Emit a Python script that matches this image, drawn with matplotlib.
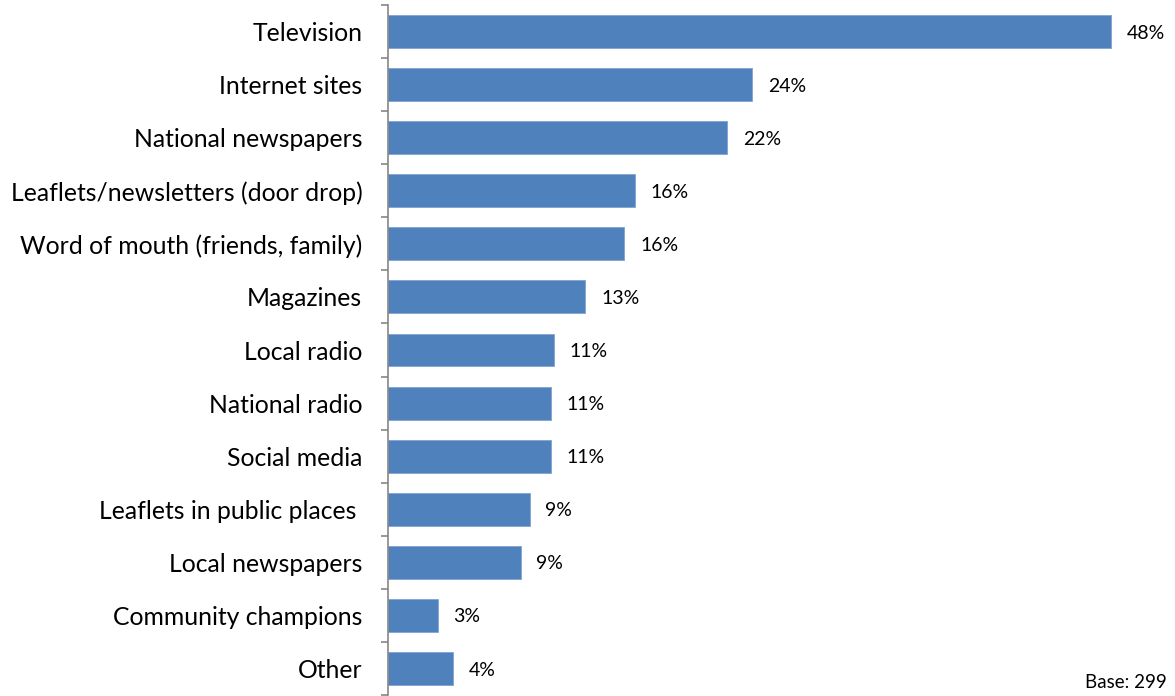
import matplotlib
matplotlib.use("Agg")
import matplotlib.pyplot as plt
import numpy as np

categories = [
    "Television",
    "Internet sites",
    "National newspapers",
    "Leaflets/newsletters (door drop)",
    "Word of mouth (friends, family)",
    "Magazines",
    "Local radio",
    "National radio",
    "Social media",
    "Leaflets in public places ",
    "Local newspapers",
    "Community champions",
    "Other",
]
values = [48.0, 24.2, 22.5, 16.4, 15.7, 13.1, 11.0, 10.8, 10.8, 9.4, 8.8, 3.3, 4.3]
base_note = "Base: 299"

bar_color = "#4F81BD"
axis_color = "#868686"
font = ["Lato", "DejaVu Sans"]

W, H, DPI = 1175, 696, 100
fig = plt.figure(figsize=(W / DPI, H / DPI), dpi=DPI)
ax = fig.add_axes([388 / W, 1 - 695 / H, 753 / W, 690 / H])

n = len(categories)
y = np.arange(n)
ax.barh(y, values, height=0.62, color=bar_color, edgecolor="#7FA3D1", linewidth=0.6)
ax.set_xlim(0, 50)
ax.set_ylim(n - 0.5, -0.5)

# labels beside each bar
for i, v in enumerate(values):
    ax.text(v + 1.05, i + 0.03, f"{v:.0f}%", va="center", ha="left",
            fontsize=14, family=font, color="#000000")

for side in ("top", "right", "bottom"):
    ax.spines[side].set_visible(False)
ax.spines["left"].set_color(axis_color)
ax.spines["left"].set_linewidth(1.2)
ax.set_xticks([])

ax.set_yticks(y)
ax.set_yticklabels(categories, family=font, fontsize=17.8)
ax.tick_params(axis="y", which="major", length=0, pad=18.5)
ax.set_yticks(np.arange(n + 1) - 0.5, minor=True)
ax.tick_params(axis="y", which="minor", length=5, width=1.2, color=axis_color)

fig.text(1167 / W, 1 - 688 / H, base_note, ha="right", va="baseline",
         fontsize=13.5, family=font, color="#000000")

fig.savefig("out.png", dpi=DPI)
